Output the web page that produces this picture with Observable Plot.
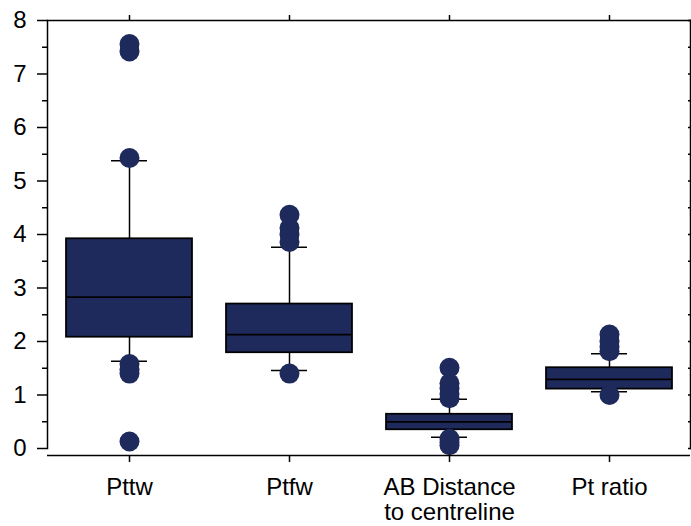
<!DOCTYPE html>
<html>
<head>
<meta charset="utf-8">
<script src="https://cdn.jsdelivr.net/npm/d3@7"></script>
<script src="https://cdn.jsdelivr.net/npm/@observablehq/plot@0.6"></script>
<style>
  body { margin: 0; background: #fff; }
</style>
</head>
<body>
<div id="chart"></div>
<script>
// Box summaries per measure
const categories = ["Pttw", "Ptfw", "AB Distance\nto centreline", "Pt ratio"];
const lowerWhisker = [1.63, 1.46, 0.21, 1.06];
const quartile1    = [2.08, 1.79, 0.35, 1.11];
const median       = [2.83, 2.13, 0.50, 1.29];
const quartile3    = [3.92, 2.70, 0.64, 1.51];
const upperWhisker = [5.38, 3.76, 0.92, 1.77];

// Points beyond the whiskers
const pttwOutliers  = [7.56, 7.42, 5.43, 1.58, 1.48, 1.40, 0.13];
const ptfwOutliers  = [4.37, 4.12, 4.00, 3.86, 1.40];
const abOutliers    = [1.51, 1.22, 1.12, 1.02, 0.94, 0.18, 0.11, 0.06];
const ratioOutliers = [2.13, 2.00, 1.90, 1.82, 1.00];

const yTicks = [0, 1, 2, 3, 4, 5, 6, 7, 8];

const navy = "#1f2a5c";

const boxes = categories.map((cat, i) => ({
  cat,
  lo: lowerWhisker[i],
  q1: quartile1[i],
  med: median[i],
  q3: quartile3[i],
  hi: upperWhisker[i]
}));

const outlierRows = [pttwOutliers, ptfwOutliers, abOutliers, ratioOutliers]
  .flatMap((vals, i) => vals.map(v => ({cat: categories[i], v})));

const chart = Plot.plot({
  width: 691,
  height: 526,
  marginTop: 20,
  marginBottom: 78,
  marginLeft: 47,
  marginRight: 1,
  style: {
    fontFamily: "'Liberation Sans', Arial, sans-serif",
    fontSize: "24px",
    color: "#000",
    background: "#fff"
  },
  x: {domain: categories, padding: 0, label: null},
  y: {domain: [0, 8], label: null},
  marks: [
    // whiskers
    Plot.ruleX(boxes, {x: "cat", y1: "lo", y2: "q1", stroke: "#000", strokeWidth: 1.5}),
    Plot.ruleX(boxes, {x: "cat", y1: "q3", y2: "hi", stroke: "#000", strokeWidth: 1.5}),
    Plot.tickY(boxes, {x: "cat", y: "lo", insetLeft: 62, insetRight: 62, stroke: "#000", strokeWidth: 1.5}),
    Plot.tickY(boxes, {x: "cat", y: "hi", insetLeft: 62, insetRight: 62, stroke: "#000", strokeWidth: 1.5}),
    // interquartile box and median
    Plot.barY(boxes, {x: "cat", y1: "q1", y2: "q3", fill: navy, stroke: "#000", strokeWidth: 1.75, insetLeft: 17, insetRight: 17}),
    Plot.tickY(boxes, {x: "cat", y: "med", insetLeft: 17, insetRight: 17, stroke: "#000", strokeWidth: 1.75}),
    // outliers
    Plot.dot(outlierRows, {x: "cat", y: "v", r: 10, fill: navy}),
    // axes and frame
    Plot.axisY({ticks: yTicks, tickSize: 10, tickPadding: 11, fontSize: 24, strokeWidth: 1.5, label: null}),
    Plot.axisY({ticks: d3.range(0.5, 8, 1), tickSize: 5, strokeWidth: 1.5, tickFormat: () => "", label: null}),
    Plot.axisY({anchor: "right", ticks: d3.range(0, 8.5, 0.5), tickSize: 3, dx: -3, strokeWidth: 1.5, tickFormat: () => "", label: null}),
    Plot.axisX({anchor: "top", tickSize: 6, strokeWidth: 1.5, tickFormat: () => "", label: null}),
    Plot.axisX({anchor: "bottom", tickSize: 7, dy: 7, tickPadding: 15, fontSize: 24, lineHeight: 1.04, strokeWidth: 1.5, label: null}),
    Plot.frame({anchor: "left", strokeWidth: 1.5}),
    Plot.frame({anchor: "right", strokeWidth: 1.5}),
    Plot.frame({anchor: "top", strokeWidth: 1.5}),
    Plot.ruleY([0], {dy: 7, strokeWidth: 1.5})
  ]
});

document.getElementById("chart").append(chart);
</script>
</body>
</html>
